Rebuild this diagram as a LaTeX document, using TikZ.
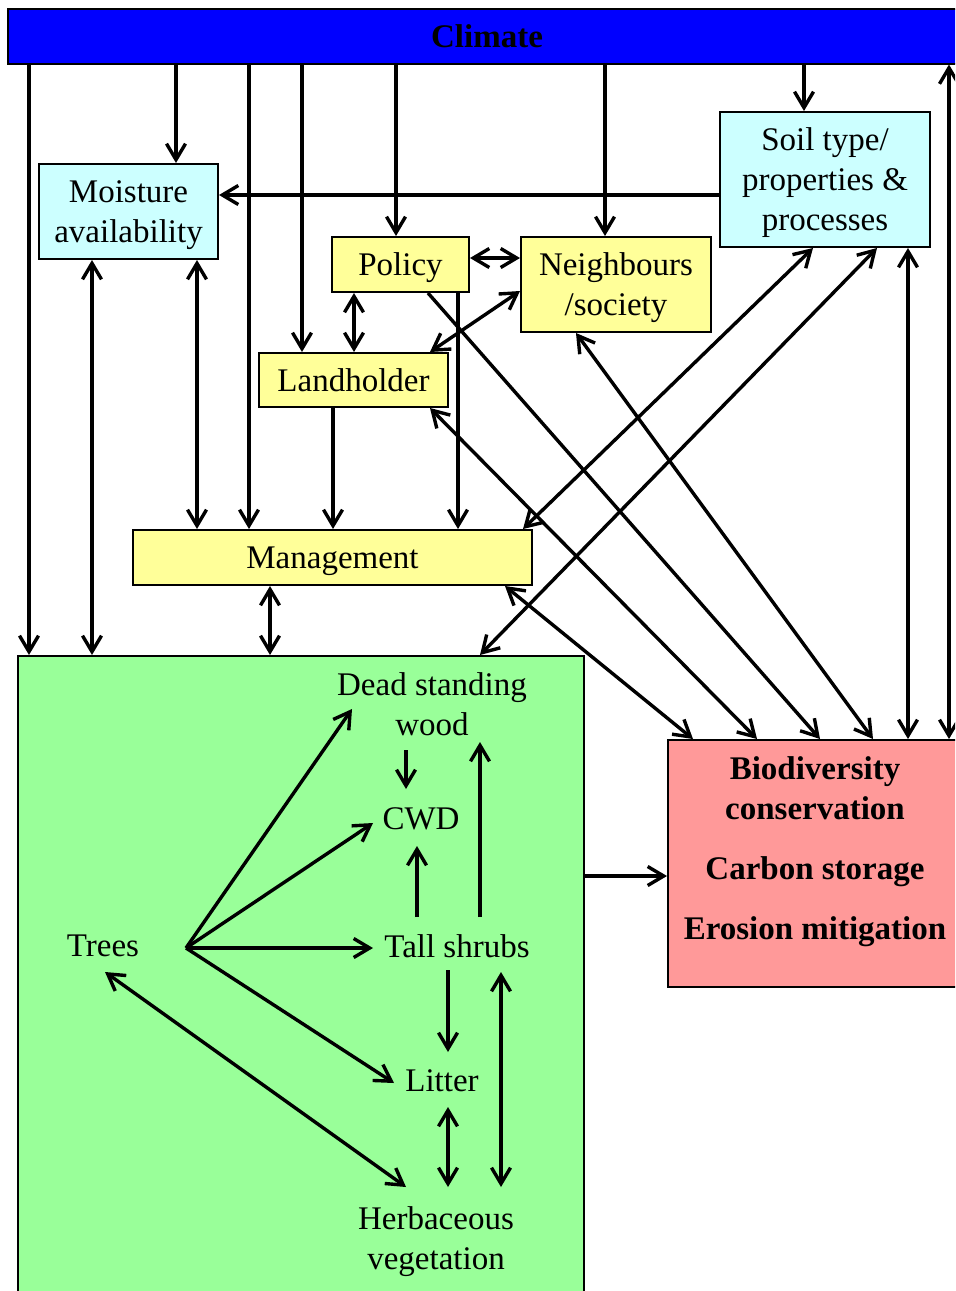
\documentclass[tikz,border=0pt]{standalone}
\usepackage{fontspec}
\setmainfont{Liberation Serif}
\usetikzlibrary{arrows.meta}
\definecolor{climblue}{RGB}{0,0,255}
\definecolor{physcyan}{RGB}{204,255,255}
\definecolor{socyellow}{RGB}{255,255,153}
\definecolor{veggreen}{RGB}{153,255,153}
\definecolor{goalpink}{RGB}{255,153,153}
\begin{document}
\begin{tikzpicture}[x=0.5pt, y=-0.5pt,
        font=\fontsize{16.5}{20}\selectfont,
        >={Straight Barb[length=8pt, width=9.5pt]},
        link/.style={line width=1.7pt},
        box/.style={draw, line width=1pt, inner sep=0pt, align=center, text depth=0pt},
        physbox/.style={box, fill=physcyan},
        socbox/.style={box, fill=socyellow},
        lbl/.style={inner sep=0pt, align=center}]
    \useasboundingbox (0, 0) rectangle (955, 1291);
    \clip (0, 0) rectangle (955, 1291);

    \node [box, fill=climblue, minimum width=479pt, minimum height=27.5pt, font=\fontsize{16.5}{20}\selectfont\bfseries] (climate) at (487, 36) {Climate};
    \node [physbox, minimum width=89.5pt, minimum height=47.5pt] (moist) at (128.5, 211.5) {Moisture\\availability};
    \node [physbox, minimum width=105pt, minimum height=67.5pt] (soil) at (825, 179.5) {Soil type/\\properties \&\\processes};
    \node [socbox, minimum width=68.5pt, minimum height=27.5pt] (policy) at (400.5, 264.5) {Policy};
    \node [socbox, minimum width=95pt, minimum height=47.5pt] (neigh) at (616, 284.5) {Neighbours\\/society};
    \node [socbox, minimum width=94.5pt, minimum height=27pt] (land) at (353.5, 380) {Landholder};
    \node [socbox, minimum width=199.5pt, minimum height=27.5pt] (mgmt) at (332.5, 557.5) {Management};
    \node [box, fill=veggreen, minimum width=283pt, minimum height=325pt] (green) at (301, 981) {};
    \node [box, fill=goalpink, minimum width=147pt, minimum height=123.5pt] (pink) at (815, 863.5) {};
    \node [lbl, font=\fontsize{16.5}{20}\selectfont\bfseries] (goals) at (815, 852) {Biodiversity\\conservation\\[10pt]Carbon storage\\[10pt]Erosion mitigation};

    \draw [link, ->] (climate.south -| 29, 0) -- (green.north -| 29, 0);
    \draw [link, ->] (climate.south -| 176, 0) -- (moist.north -| 176, 0);
    \draw [link, ->] (climate.south -| 249, 0) -- (mgmt.north -| 249, 0);
    \draw [link, ->] (climate.south -| 302, 0) -- (land.north -| 302, 0);
    \draw [link, ->] (climate.south -| 396, 0) -- (policy.north -| 396, 0);
    \draw [link, ->] (climate.south -| 605, 0) -- (neigh.north -| 605, 0);
    \draw [link, ->] (climate.south -| 804, 0) -- (soil.north -| 804, 0);
    \draw [link, <->] (pink.north -| 949, 0) -- (climate.south -| 949, 0);

    \draw [link, ->] (soil.west |- 0, 195) -- (moist.east |- 0, 195);
    \draw [link, <->] (moist.south -| 92, 0) -- (green.north -| 92, 0);
    \draw [link, <->] (moist.south -| 197, 0) -- (mgmt.north -| 197, 0);
    \draw [link, <->] (policy.east |- 0, 258) -- (neigh.west |- 0, 258);
    \draw [link, <->] (policy.south -| 354, 0) -- (land.north -| 354, 0);
    \draw [link, <->] (neigh.west |- 0, 291) -- (land.north -| 430, 0);
    \draw [link, ->] (policy.south -| 458, 0) -- (mgmt.north -| 458, 0);
    \draw [link, ->] (land.south -| 333, 0) -- (mgmt.north -| 333, 0);
    \draw [link, <->] (mgmt.south -| 270, 0) -- (green.north -| 270, 0);

    \draw [link, <->] (soil.south -| 813, 0) -- (mgmt.north -| 523, 0);
    \draw [link, <->] (soil.south -| 877, 0) -- (green.north -| 480, 0);
    \draw [link, <->] (soil.south -| 908, 0) -- (pink.north -| 908, 0);
    \draw [link, <->] (mgmt.south -| 505, 0) -- (pink.north -| 693, 0);
    \draw [link, <->] (land.south -| 430, 0) -- (pink.north -| 757, 0);
    \draw [link, ->] (policy.south -| 428, 0) -- (pink.north -| 820, 0);
    \draw [link, <->] (neigh.south -| 576, 0) -- (pink.north -| 873, 0);
    \draw [link, ->] (green.east |- 0, 876) -- (pink.west |- 0, 876);

    \node [lbl] (dead) at (432, 704) {Dead standing\\wood};
    \node [lbl] (cwd) at (421, 819) {CWD};
    \node [lbl] (trees) at (103, 946) {Trees};
    \node [lbl] (shrubs) at (457, 946) {Tall shrubs};
    \node [lbl] (litter) at (442, 1081) {Litter};
    \node [lbl] (herb) at (436, 1242) {Herbaceous\\vegetation};
    \coordinate (hub) at ([shift={(83, 2)}]trees.center);

    \draw [link, ->] (hub) -- ([shift={(-80, 5)}]dead.center);
    \draw [link, ->] (hub) -- ([shift={(-48, 4)}]cwd.center);
    \draw [link, ->] (hub) -- ([shift={(-84, 2)}]shrubs.center);
    \draw [link, ->] (hub) -- ([shift={(-48, 2)}]litter.center);
    \draw [link, <->] ([shift={(2, 26)}]trees.center) -- ([shift={(-30, -55)}]herb.center);
    \draw [link, ->] ([shift={(-26, 46)}]dead.center) -- ([shift={(-15, -30)}]cwd.center);
    \draw [link, ->] ([shift={(-40, -29)}]shrubs.center) -- ([shift={(-4, 27)}]cwd.center);
    \draw [link, ->] ([shift={(23, -29)}]shrubs.center) -- ([shift={(48, 38)}]dead.center);
    \draw [link, ->] ([shift={(-9, 24)}]shrubs.center) -- ([shift={(6, -29)}]litter.center);
    \draw [link, <->] ([shift={(44, 26)}]shrubs.center) -- ([shift={(65, -55)}]herb.center);
    \draw [link, <->] ([shift={(6, 26)}]litter.center) -- ([shift={(12, -55)}]herb.center);
\end{tikzpicture}
\end{document}
